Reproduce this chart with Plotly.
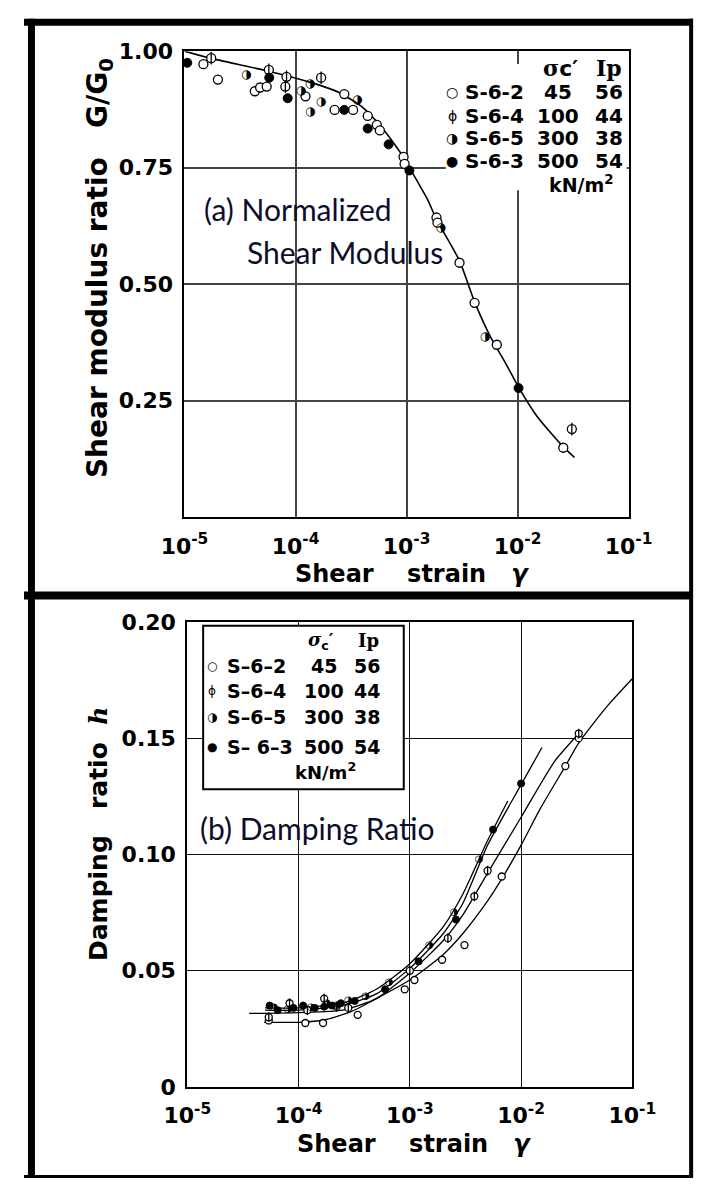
import plotly.graph_objects as go

W, H = 717, 1191

# ---------------- data : panel (a) normalized shear modulus ----------------
g_fit_strain = [1.0e-5, 1.7e-5, 5.5e-5, 1.36e-4, 2.44e-4, 4.0e-4, 5.9e-4, 8.7e-4, 1.04e-3,
                1.2e-3, 1.56e-3, 1.85e-3, 3.0e-3, 4.1e-3, 5.7e-3, 7.9e-3, 1.02e-2, 1.5e-2,
                2.53e-2, 3.26e-2]
g_fit_ratio = [1.000, 0.985, 0.958, 0.933, 0.912, 0.880, 0.838, 0.784, 0.754,
               0.728, 0.680, 0.640, 0.550, 0.462, 0.387, 0.328, 0.279, 0.216,
               0.153, 0.128]

g_s62_strain = [1.48e-5, 2.0e-5, 4.3e-5, 4.8e-5, 5.5e-5, 1.23e-4, 2.25e-4, 2.75e-4, 3.3e-4,
                4.47e-4, 5.4e-4, 5.75e-4, 9.4e-4, 9.6e-4, 1.86e-3, 1.9e-3, 3.0e-3, 4.1e-3,
                6.5e-3, 2.58e-2]
g_s62_ratio = [0.972, 0.939, 0.914, 0.922, 0.924, 0.903, 0.874, 0.908, 0.874,
               0.861, 0.842, 0.830, 0.773, 0.758, 0.643, 0.632, 0.546, 0.460,
               0.370, 0.149]
g_s64_strain = [1.74e-5, 5.75e-5, 8.1e-5, 8.3e-5, 1.7e-4, 3.08e-2]
g_s64_ratio = [0.985, 0.960, 0.924, 0.945, 0.943, 0.189]
g_s65_strain = [3.6e-5, 1.12e-4, 1.35e-4, 1.36e-4, 1.7e-4, 3.6e-4, 2.03e-3, 5.1e-3]
g_s65_ratio = [0.949, 0.914, 0.929, 0.870, 0.891, 0.895, 0.620, 0.387]
g_s63_strain = [1.06e-5, 2.1e-5, 5.8e-5, 8.5e-5, 2.75e-4, 4.47e-4, 6.9e-4, 1.06e-3, 1.02e-2]
g_s63_ratio = [0.975, 1.02, 0.943, 0.899, 0.874, 0.834, 0.800, 0.744, 0.277]

# ---------------- data : panel (b) damping ratio ----------------
h_s62_curve_strain = [4.9e-5, 1.0e-4, 1.7e-4, 3.0e-4, 5.0e-4, 1.0e-3, 2.0e-3, 3.0e-3, 5.0e-3,
                      7.0e-3, 1.0e-2, 1.5e-2, 2.5e-2, 3.3e-2, 6.0e-2, 1.12e-1, 1.4e-1]
h_s62_curve = [0.0278, 0.0278, 0.0288, 0.0325, 0.038, 0.046, 0.057, 0.066, 0.080,
               0.091, 0.104, 0.120, 0.138, 0.148, 0.164, 0.178, 0.182]
h_s64_curve_strain = [3.6e-5, 1.0e-4, 2.5e-4, 5.0e-4, 1.0e-3, 2.0e-3, 3.0e-3, 5.0e-3, 1.0e-2,
                      2.0e-2, 3.3e-2]
h_s64_curve = [0.0316, 0.032, 0.033, 0.038, 0.049, 0.063, 0.074, 0.092, 0.116, 0.140, 0.152]
h_s65_curve_strain = [5.0e-5, 1.0e-4, 2.5e-4, 5.0e-4, 1.0e-3, 2.0e-3, 3.0e-3, 5.0e-3, 7.6e-3]
h_s65_curve = [0.034, 0.034, 0.036, 0.042, 0.053, 0.069, 0.083, 0.106, 0.123]
h_s63_curve_strain = [5.0e-5, 1.0e-4, 2.5e-4, 5.0e-4, 1.0e-3, 2.0e-3, 3.0e-3, 5.0e-3, 1.0e-2,
                      1.54e-2]
h_s63_curve = [0.033, 0.033, 0.035, 0.040, 0.051, 0.066, 0.079, 0.104, 0.130, 0.146]

h_s62_strain = [5.4e-5, 1.15e-4, 1.66e-4, 3.4e-4, 9.0e-4, 1.1e-3, 1.95e-3, 3.1e-3, 6.7e-3,
                2.5e-2, 3.3e-2, 1.12e-1]
h_s62 = [0.0286, 0.0275, 0.0275, 0.031, 0.042, 0.046, 0.0547, 0.061, 0.0905,
         0.138, 0.150, 0.178]
h_s64_strain = [5.4e-5, 8.3e-5, 1.2e-4, 1.7e-4, 2.2e-4, 2.8e-4, 1.0e-3, 2.2e-3, 3.8e-3,
                5.0e-3, 3.3e-2]
h_s64 = [0.030, 0.036, 0.033, 0.038, 0.0345, 0.034, 0.050, 0.064, 0.082, 0.093, 0.152]
h_s65_strain = [6.0e-5, 8.0e-5, 1.3e-4, 1.8e-4, 2.2e-4, 2.8e-4, 4.0e-4, 6.5e-4, 1.5e-3,
                2.5e-3, 4.2e-3]
h_s65 = [0.034, 0.0335, 0.034, 0.036, 0.035, 0.037, 0.039, 0.045, 0.061, 0.075, 0.098]
h_s63_strain = [5.5e-5, 6.5e-5, 9.0e-5, 1.1e-4, 1.4e-4, 1.7e-4, 2.0e-4, 2.4e-4, 3.2e-4,
                6.0e-4, 1.2e-3, 2.6e-3, 5.6e-3, 1.0e-2]
h_s63 = [0.035, 0.033, 0.034, 0.035, 0.034, 0.0345, 0.035, 0.036, 0.037,
         0.042, 0.054, 0.072, 0.1107, 0.1305]

# legend table
specimens_a = ["S-6-2", "S-6-4", "S-6-5", "S-6-3"]
specimens_b = ["S\u20136\u20132", "S\u20136\u20134", "S\u20136\u20135", "S\u2013\u00a06\u20133"]
sigma_c = ["45", "100", "300", "500"]
ip_vals = ["56", "44", "38", "54"]
glyphs = ["\u25cb", "\u0278", "\u25d1", "\u25cf"]

x_ticks = [1e-5, 1e-4, 1e-3, 1e-2, 1e-1]
x_ticktext = ["10<sup>-5</sup>", "10<sup>-4</sup>", "10<sup>-3</sup>", "10<sup>-2</sup>", "10<sup>-1</sup>"]
ya_ticks = [0.25, 0.50, 0.75, 1.00]
ya_ticktext = ["0.25", "0.50", "0.75", "1.00"]
yb_ticks = [0, 0.05, 0.10, 0.15, 0.20]
yb_ticktext = ["0", "0.05", "0.10", "0.15", "0.20"]

# ---------------- figure ----------------
def px_x(p):
    return p / W


def px_y(p):
    return 1 - p / H


fig = go.Figure()
BOLD = "DejaVu Sans"


def add_points(xs, ys, kind, size, xa, ya):
    if kind in (0, 1):
        fig.add_trace(go.Scatter(x=xs, y=ys, mode="markers", xaxis=xa, yaxis=ya, cliponaxis=False,
                                 marker=dict(symbol="circle", size=size, color="white",
                                             line=dict(color="black", width=1.3))))
    if kind == 1:
        fig.add_trace(go.Scatter(x=xs, y=ys, mode="markers", xaxis=xa, yaxis=ya, cliponaxis=False,
                                 marker=dict(symbol="line-ns-open", size=size, color="black",
                                             line=dict(color="black", width=1.3))))
    elif kind == 2:
        fig.add_trace(go.Scatter(x=xs, y=ys, mode="text", xaxis=xa, yaxis=ya, cliponaxis=False,
                                 text=["\u25d1"] * len(xs), textposition="middle center",
                                 textfont=dict(family="DejaVu Sans", size=size + 3, color="black")))
    elif kind == 3:
        fig.add_trace(go.Scatter(x=xs, y=ys, mode="markers", xaxis=xa, yaxis=ya, cliponaxis=False,
                                 marker=dict(symbol="circle", size=size, color="black",
                                             line=dict(color="black", width=1))))


# panel (a)
fig.add_trace(go.Scatter(x=g_fit_strain, y=g_fit_ratio, mode="lines", xaxis="x", yaxis="y",
                         line=dict(color="black", width=1.6, shape="spline", smoothing=0.6)))
add_points(g_s62_strain, g_s62_ratio, 0, 9, "x", "y")
add_points(g_s64_strain, g_s64_ratio, 1, 9, "x", "y")
add_points(g_s65_strain, g_s65_ratio, 2, 9, "x", "y")
add_points(g_s63_strain, g_s63_ratio, 3, 9, "x", "y")

# panel (b)
for cx, cy in [(h_s62_curve_strain, h_s62_curve), (h_s64_curve_strain, h_s64_curve),
               (h_s65_curve_strain, h_s65_curve), (h_s63_curve_strain, h_s63_curve)]:
    fig.add_trace(go.Scatter(x=cx, y=cy, mode="lines", xaxis="x2", yaxis="y2",
                             line=dict(color="black", width=1.3, shape="spline", smoothing=0.6)))
add_points(h_s62_strain, h_s62, 0, 7, "x2", "y2")
add_points(h_s64_strain, h_s64, 1, 7, "x2", "y2")
add_points(h_s65_strain, h_s65, 2, 7, "x2", "y2")
add_points(h_s63_strain, h_s63, 3, 7, "x2", "y2")

tickfont = dict(family=BOLD, size=22, color="black", weight="bold")
common_x = dict(type="log", range=[-5, -1], tickvals=x_ticks, ticktext=x_ticktext,
                tickfont=tickfont, showgrid=True, zeroline=False, showline=True, mirror=True,
                linecolor="black", linewidth=2, ticks="outside", ticklen=8,
                tickcolor="rgba(0,0,0,0)", fixedrange=True)
common_y = dict(tickfont=tickfont, showgrid=True, zeroline=False, showline=True, mirror=True,
                linecolor="black", linewidth=2, ticks="outside", ticklen=5,
                tickcolor="rgba(0,0,0,0)", fixedrange=True)

fig.update_layout(
    width=W, height=H, margin=dict(l=0, r=0, t=0, b=0),
    paper_bgcolor="white", plot_bgcolor="white", showlegend=False,
    colorway=["black"],
    xaxis=dict(common_x, domain=[px_x(172), px_x(648)], anchor="y",
               gridcolor="#444444", gridwidth=1.5),
    yaxis=dict(common_y, domain=[px_y(516), px_y(40)], anchor="x", range=[0, 1.0],
               tickvals=ya_ticks, ticktext=ya_ticktext, gridcolor="#444444", gridwidth=1.5),
    xaxis2=dict(common_x, domain=[px_x(175), px_x(652)], anchor="y2",
                gridcolor="#111111", gridwidth=1.3),
    yaxis2=dict(common_y, domain=[px_y(1098), px_y(623)], anchor="x2", range=[0, 0.2],
                tickvals=yb_ticks, ticktext=yb_ticktext, gridcolor="#111111", gridwidth=1.3),
)

shapes = []
# legend backgrounds
shapes.append(dict(type="rect", xref="paper", yref="paper", x0=px_x(452), x1=px_x(646),
                   y0=px_y(182), y1=px_y(53), fillcolor="white", line=dict(width=0), layer="above"))
shapes.append(dict(type="rect", xref="paper", yref="paper", x0=px_x(192), x1=px_x(407),
                   y0=px_y(794), y1=px_y(627), fillcolor="white",
                   line=dict(color="black", width=2), layer="above"))
# outer frame
frame = [((0, 10.5), (717, 10.5), 7), ((0, 596), (717, 596), 8), ((8, 7), (8, 1191), 7),
         ((715, 7), (715, 1191), 4), ((0, 1189.5), (717, 1189.5), 3)]
for (a, b, w) in frame:
    shapes.append(dict(type="line", xref="paper", yref="paper", x0=px_x(a[0]), y0=px_y(a[1]),
                       x1=px_x(b[0]), y1=px_y(b[1]), line=dict(color="black", width=w),
                       layer="above"))
fig.update_layout(shapes=shapes)

anns = []


def ann(px, py, text, size=22, family=BOLD, xanchor="center", color="black", angle=0,
        weight="bold"):
    anns.append(dict(x=px_x(px), y=px_y(py), xref="paper", yref="paper", text=text,
                     showarrow=False, xanchor=xanchor, yanchor="middle", textangle=angle,
                     font=dict(family=family, size=size, color=color, weight=weight)))


NB = "\u00a0"
# axis titles
ann(416, 574, "Shear" + NB * 4 + "strain" + NB * 3 + "<i>\u03b3</i>", size=24)
ann(418, 1156, "Shear" + NB * 4 + "strain" + NB * 3 + "<i>\u03b3</i>", size=24)
ann(81, 262, "Shear modulus ratio" + NB * 3 + "G/G<sub>0</sub>", size=28, angle=-90)
ann(80, 840, "Damping" + NB * 3 + "ratio" + NB * 2 +
    "<span style='font-family:DejaVu Serif'><i>h</i></span>", size=25, angle=-90)

# panel labels
ann(191, 201, "(a) Normalized", size=30, family="Lato", xanchor="left", color="#0c0c2c",
    weight="normal")
ann(237, 245, "Shear Modulus", size=30, family="Lato", xanchor="left", color="#0c0c2c",
    weight="normal")
ann(187, 833, "(b) Damping Ratio", size=30, family="Lato", xanchor="left", color="#0c0c2c",
    weight="normal")

# legend (a)
ann(575, 57, "<span style='font-family:DejaVu Serif'>\u03c3</span>c\u2032", size=22)
ann(627, 57, "Ip", size=22, family="DejaVu Serif")
rows_a = [82, 106, 129, 152]
for i in range(4):
    ann(459, rows_a[i], glyphs[i], size=14, family="DejaVu Sans", weight="normal")
    ann(471, rows_a[i], specimens_a[i], size=20, xanchor="left")
    ann(572, rows_a[i], sigma_c[i], size=20)
    ann(627, rows_a[i], ip_vals[i], size=20)
ann(598, 176, "kN/m<sup>2</sup>", size=19)

# legend (b)
ann(318, 642, "<span style='font-family:DejaVu Serif'><i>\u03c3</i></span><sub>c</sub>\u2032",
    size=18)
ann(369, 642, "Ip", size=18, family="DejaVu Serif")
rows_b = [668, 694, 720, 751]
for i in range(4):
    ann(202, rows_b[i], glyphs[i], size=12, family="DejaVu Sans", weight="normal")
    ann(215, rows_b[i], specimens_b[i], size=19, xanchor="left")
    ann(321, rows_b[i], sigma_c[i], size=19)
    ann(368, rows_b[i], ip_vals[i], size=19)
ann(323, 775, "kN/m<sup>2</sup>", size=18)

fig.update_layout(annotations=anns)
fig.write_html("out.html",
               post_script="document.body.style.margin='0';"
                           "document.documentElement.style.overflow='hidden';")
